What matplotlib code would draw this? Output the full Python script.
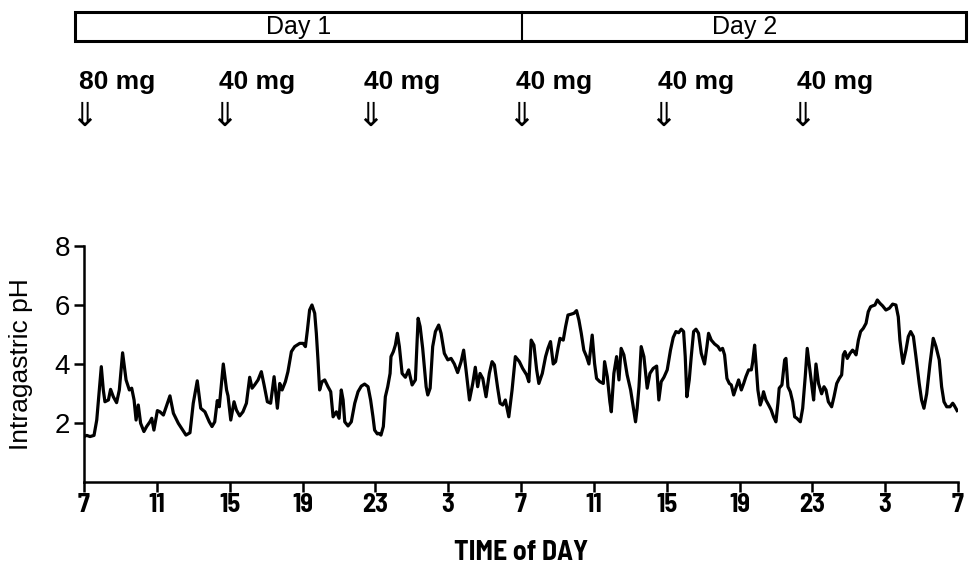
import numpy as np
import matplotlib
matplotlib.use("Agg")
import matplotlib.pyplot as plt
from matplotlib.patches import Rectangle

# pH-Verlauf über 48 Stunden (Stunden ab 7 Uhr am Tag 1)
hours = [0, 0.15, 0.33, 0.55, 0.70, 0.84, 0.95, 1.06, 1.15, 1.34, 1.46, 1.61, 1.79, 1.94,
         2.12, 2.31, 2.49, 2.62, 2.75, 2.86, 2.98, 3.11, 3.29, 3.44, 3.62, 3.72, 3.84,
         4.03, 4.17, 4.36, 4.72, 4.91, 5.18, 5.36, 5.60, 5.82, 6.00, 6.22, 6.41, 6.64,
         6.88, 7.03, 7.18, 7.32, 7.43, 7.65, 7.83, 7.91, 8.06, 8.24, 8.37, 8.55, 8.73,
         8.92, 9.10, 9.23, 9.37, 9.56, 9.74, 9.89, 10.07, 10.25, 10.44, 10.62, 10.75,
         10.88, 11.06, 11.20, 11.39, 11.57, 11.85, 12.03, 12.16, 12.27, 12.39, 12.52,
         12.67, 12.76, 12.85, 12.94, 13.07, 13.22, 13.40, 13.55, 13.68, 13.86, 14.01,
         14.13, 14.23, 14.32, 14.50, 14.68, 14.87, 15.05, 15.23, 15.41, 15.60, 15.74,
         15.87, 15.96, 16.11, 16.19, 16.31, 16.44, 16.55, 16.68, 16.81, 16.86, 16.99,
         17.10, 17.21, 17.32, 17.47, 17.65, 17.83, 18.02, 18.20, 18.35, 18.46, 18.60,
         18.79, 18.88, 19.01, 19.15, 19.30, 19.48, 19.61, 19.79, 19.98, 20.16, 20.34,
         20.52, 20.71, 20.85, 20.98, 21.17, 21.35, 21.49, 21.62, 21.75, 21.90, 22.08,
         22.26, 22.41, 22.54, 22.72, 22.85, 23.00, 23.14, 23.33, 23.51, 23.69, 23.91,
         24.09, 24.24, 24.31, 24.43, 24.56, 24.71, 24.86, 24.98, 25.17, 25.35, 25.48,
         25.62, 25.77, 25.90, 26.03, 26.14, 26.32, 26.45, 26.58, 26.76, 26.91, 27.05,
         27.18, 27.31, 27.45, 27.60, 27.73, 27.91, 28.04, 28.15, 28.33, 28.52, 28.59,
         28.74, 28.88, 28.96, 29.10, 29.25, 29.38, 29.50, 29.65, 29.83, 30.02, 30.16,
         30.29, 30.38, 30.48, 30.60, 30.75, 30.93, 31.08, 31.26, 31.45, 31.57, 31.70,
         31.85, 32.03, 32.21, 32.36, 32.51, 32.66, 32.80, 32.93, 33.02, 33.11, 33.24,
         33.35, 33.48, 33.61, 33.75, 33.90, 34.08, 34.21, 34.30, 34.45, 34.63, 34.82,
         34.94, 35.07, 35.18, 35.31, 35.44, 35.55, 35.68, 35.80, 35.95, 36.10, 36.23,
         36.35, 36.50, 36.65, 36.72, 36.83, 36.90, 37.01, 37.14, 37.23, 37.32, 37.45,
         37.60, 37.74, 37.87, 38.00, 38.11, 38.18, 38.33, 38.48, 38.55, 38.66, 38.79,
         38.92, 39.03, 39.15, 39.34, 39.47, 39.61, 39.72, 39.83, 39.98, 40.07, 40.20,
         40.34, 40.42, 40.51, 40.64, 40.75, 40.88, 41.06, 41.19, 41.34, 41.48, 41.61,
         41.70, 41.79, 41.92, 42.07, 42.21, 42.29, 42.40, 42.53, 42.65, 42.80, 42.95,
         43.07, 43.20, 43.31, 43.44, 43.57, 43.71, 43.86, 44.04, 44.23, 44.41, 44.59,
         44.72, 44.81, 44.90, 44.98, 45.14, 45.27, 45.40, 45.55, 45.69, 45.87, 46.00,
         46.13, 46.28, 46.46, 46.64, 46.79, 46.97, 47.10, 47.23, 47.38, 47.56, 47.71,
         47.78, 47.95]
ph = [1.54, 1.58, 1.54, 1.58, 2.10, 3.12, 3.91, 3.12, 2.72, 2.78, 3.14, 2.89, 2.69, 3.12,
      4.38, 3.46, 3.12, 3.18, 2.78, 2.10, 2.61, 1.99, 1.71, 1.88, 2.04, 2.16, 1.76,
      2.42, 2.38, 2.27, 2.92, 2.33, 1.99, 1.82, 1.59, 1.67, 2.67, 3.43, 2.50, 2.38,
      2.04, 1.88, 2.04, 2.76, 2.55, 4.00, 3.12, 2.92, 2.10, 2.72, 2.44, 2.24, 2.38,
      2.67, 3.55, 3.18, 3.29, 3.46, 3.74, 3.29, 2.72, 2.67, 3.57, 2.50, 3.34,
      3.12, 3.40, 3.74, 4.42, 4.59, 4.70, 4.70, 4.59, 5.15, 5.83, 6.00,
      5.72, 5.04, 4.14, 3.12, 3.40, 3.46, 3.23, 3.06, 2.21, 2.38, 2.16,
      3.12, 2.78, 2.04, 1.90, 2.04, 2.67, 3.06, 3.25, 3.32, 3.23, 2.78,
      2.21, 1.76, 1.63, 1.65, 1.59, 1.88, 2.89, 3.23, 3.68, 4.25, 4.42,
      4.64, 5.04, 4.59, 3.68, 3.55, 3.80, 3.29, 3.46, 5.55, 5.27, 4.53,
      3.23, 2.95, 3.18, 4.59, 5.10, 5.32, 5.04, 4.36, 4.14, 4.19, 4.00,
      3.71, 4.08, 4.47, 3.80, 2.78, 3.34, 3.89, 3.23, 3.68, 3.51, 2.89,
      3.68, 4.08, 3.97, 3.18, 2.67, 2.61, 2.78, 2.21, 3.12, 4.25, 4.08,
      3.85, 3.70, 3.63, 3.40, 4.81, 4.64, 3.80, 3.34, 3.68, 4.25, 4.53,
      4.76, 4.00, 4.08, 4.53, 4.87, 4.81, 5.27, 5.66, 5.69, 5.72, 5.81,
      5.49, 5.04, 4.47, 4.25, 4.00, 4.98, 4.02, 3.51, 3.40, 3.34, 4.08,
      3.57, 2.72, 2.38, 3.68, 4.25, 3.46, 4.53, 4.31, 3.63, 3.12, 2.55,
      2.04, 2.50, 3.23, 4.59, 4.25, 3.18, 3.68, 3.85, 3.93, 2.78, 3.40,
      3.55, 3.80, 4.47, 4.90, 5.10, 5.06, 5.18, 5.10, 4.25, 2.89, 3.46,
      4.25, 5.10, 5.18, 5.04, 4.36, 4.00, 4.59, 5.04, 4.81, 4.68, 4.59,
      4.47, 4.53, 4.31, 3.51, 3.34, 3.29, 2.95, 3.18, 3.46, 3.12, 3.34,
      3.57, 3.80, 3.80, 4.05, 4.64, 4.08, 3.12, 2.61, 2.78, 3.06, 2.78,
      2.61, 2.44, 2.21, 2.04, 2.67, 3.18, 3.29, 4.14, 4.19, 3.23, 3.06,
      2.72, 2.21, 2.16, 2.04, 2.50, 3.57, 4.53, 3.97, 3.23, 2.78, 4.00,
      3.34, 3.18, 2.99, 3.23, 3.12, 2.72, 2.55, 2.89, 3.34, 3.51, 3.63,
      4.31, 4.42, 4.19, 4.36, 4.47, 4.42, 4.31, 4.81, 5.10, 5.21, 5.38,
      5.77, 5.94, 5.97, 6.00, 6.17, 6.06, 5.97, 5.83, 5.89, 6.03, 6.00,
      5.60, 4.81, 4.36, 4.02, 4.47, 4.93, 5.10, 4.93, 4.25, 3.34, 2.78,
      2.50, 2.99, 4.00, 4.87, 4.59, 4.14, 3.23, 2.72, 2.55, 2.55, 2.67,
      2.61, 2.42]

tick_hours = list(range(0, 49, 4))
tick_labels = ["7", "11", "15", "19", "23", "3", "7", "11", "15", "19", "23", "3", "7"]
y_ticks = [2, 4, 6, 8]

dose_hours = [0, 7.7, 15.7, 24.0, 31.8, 39.45]
dose_labels = ["80 mg", "40 mg", "40 mg", "40 mg", "40 mg", "40 mg"]
day_labels = ["Day 1", "Day 2"]
day_edges = [-0.5, 24.07, 48.45]

narrow = ["Liberation Sans Narrow", "Barlow Semi Condensed", "DejaVu Sans"]
plain = ["Liberation Sans", "DejaVu Sans"]

W, H = 969, 576
fig = plt.figure(figsize=(W / 100, H / 100), dpi=100)

# Hauptdiagramm
ax = fig.add_axes([84 / W, 1 - 482 / H, (958 - 84) / W, (482 - 246) / H])
ax.plot(hours, ph, color="black", lw=2.3, solid_joinstyle="round")
ax.set_xlim(0, 48)
ax.set_ylim(0, 8)
ax.set_xticks(tick_hours)
ax.set_xticklabels(tick_labels, family=narrow, fontweight="bold", fontsize=19)
ax.set_yticks(y_ticks)
ax.set_yticklabels([str(v) for v in y_ticks], family=plain, fontsize=20)
for s in ["top", "right"]:
    ax.spines[s].set_visible(False)
for s in ["left", "bottom"]:
    ax.spines[s].set_linewidth(1.8)
ax.tick_params(direction="out", length=7, width=1.8, pad=3)
ax.tick_params(axis="x", pad=1)
ax.set_ylabel("Intragastric pH", family=plain, fontsize=19)
ax.yaxis.set_label_coords(-0.058, 0.5)
fig.text(521 / W, 1 - 552 / H, "TIME of DAY", family=narrow, fontweight="bold",
         fontsize=20, ha="center", va="center")

# Oberer Bereich: Tage und Dosen
top = fig.add_axes([84 / W, 1 - 140 / H, (958 - 84) / W, 140 / H])
top.set_xlim(0, 48)
top.set_ylim(140, 0)
top.axis("off")
top.add_patch(Rectangle((day_edges[0], 12), day_edges[2] - day_edges[0], 29,
                        fill=False, lw=2.2, ec="black", clip_on=False))
top.plot([day_edges[1], day_edges[1]], [12, 41], color="black", lw=1.5, clip_on=False)
for i, lab in enumerate(day_labels):
    cx = (day_edges[i] + day_edges[i + 1]) / 2
    top.text(cx, 27, lab, family=plain, fontsize=18, ha="center", va="center")

for h, lab in zip(dose_hours, dose_labels):
    top.text(h - 0.3, 82, lab, family=plain, fontweight="bold", fontsize=19,
             ha="left", va="center", clip_on=False)
    top.text(h, 116, "\u21d3", family="DejaVu Sans", fontsize=24,
             ha="center", va="center", clip_on=False)

fig.savefig("out.png", dpi=100)
